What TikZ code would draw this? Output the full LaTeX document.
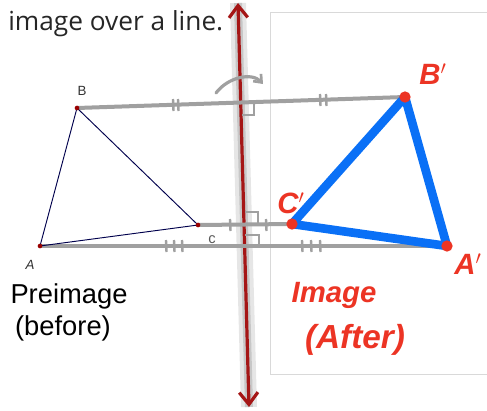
\documentclass[tikz,border=0pt]{standalone}
\usepackage{fontspec}
\setmainfont{Open Sans}
\newfontfamily\arialf{Liberation Sans}
\usetikzlibrary{arrows.meta,calc}
\definecolor{hred}{RGB}{236,52,36}
\definecolor{hblue}{RGB}{10,112,246}
\definecolor{axisred}{RGB}{165,22,22}
\definecolor{lgray}{RGB}{160,160,160}
\tikzset{
  gline/.style={draw=lgray, line width=3pt},
  tick/.style={draw=lgray, line width=1.8pt},
  rmark/.style={draw=lgray, line width=1.6pt},
  pretri/.style={draw=black!70!blue, line width=0.7pt},
  imtri/.style={draw=hblue, line width=6.5pt, line join=round},
  predot/.style={circle, fill=black!40!red, inner sep=0pt, minimum size=3.5pt},
  imdot/.style={circle, fill=hred, inner sep=0pt, minimum size=8.5pt},
  hand/.style={text=hred, font=\arialf\bfseries\itshape\fontsize{22}{24}\selectfont},
  small/.style={text=black!80, font=\arialf\fontsize{10}{12}\selectfont}
}
\begin{document}
\begin{tikzpicture}[x=0.75pt,y=-0.75pt]
\useasboundingbox (0,0) rectangle (487,411);
% panel
\draw[black!15, line width=0.6pt] (487,12) -- (270,12) -- (270,374) -- (487,374);
% title
\node[anchor=base west, inner sep=0pt, text=black!85, font=\fontsize{19.7}{22}\selectfont] (title) at (8,30) {image over a line.};
% axis
\coordinate (top) at (238,3);
\coordinate (bot) at (249,407);
\coordinate (mid) at ($(top)!0.5!(bot)$);
\draw[black!12, line width=12pt, opacity=0.8] (top) -- (bot);
\draw[black!22, line width=6pt] (top) -- (bot);
\draw[axisred, line width=2.4pt, -{Straight Barb[length=9pt,width=14pt,line width=2.4pt]}] (mid) -- (top);
\draw[axisred, line width=2.4pt, -{Straight Barb[length=9pt,width=14pt,line width=2.4pt]}] (mid) -- (bot);
% vertices
\coordinate (A) at (40,246);
\coordinate (B) at (77,108);
\coordinate (C) at (198,225);
\coordinate (A2) at (447,246);
\coordinate (B2) at (405,97);
\coordinate (C2) at (292,224);
% gray reflection lines
\draw[gline] (B) -- (B2);
\draw[gline] (C) -- (C2);
\draw[gline] (A) -- (A2);
% ticks
\foreach \x/\y in {173/105, 178/105, 320/100, 326/100} \draw[tick] (\x,\y-6) -- (\x+0.5,\y+6);
\foreach \x in {230, 266} \draw[tick] (\x,219) -- (\x+0.5,231);
\foreach \x in {166, 174, 182, 302, 311, 320} \draw[tick] (\x,240) -- (\x+0.5,252);
% right angle marks
\draw[rmark] (254,102) -- (254,115) -- (242,115);
\draw[rmark] (245,212) -- (258,212) -- (258,224);
\draw[rmark] (245,235) -- (259,235) -- (259,246);
% curved arrow
\draw[draw=lgray, line width=2.4pt, line cap=round, -{Straight Barb[length=5pt,width=8pt,line width=2pt]}] (216,93) .. controls (228,77) and (252,72) .. (263,84);
% preimage triangle
\draw[pretri] (A) -- (B) -- (C) -- cycle;
\node[predot] at (A) {};
\node[predot] at (B) {};
\node[predot] at (C) {};
\node[small] (lB) at (82,91) {B};
\node[small, font=\arialf\itshape\fontsize{10}{12}\selectfont] (lA) at (30,265) {A};
\node[small, text=black!65, font=\arialf\fontsize{11}{12}\selectfont] (lC) at (212,240) {c};
% image triangle
\draw[imtri] (A2) -- (B2) -- (C2) -- cycle;
\node[imdot] at (A2) {};
\node[imdot] at (B2) {};
\node[imdot] at (C2) {};
\node[hand] (lB2) at (433,74) {B$'$};
\node[hand] (lC2) at (291,203) {C$'$};
\node[hand] (lA2) at (468,264) {A$'$};
% captions
\node[anchor=base, inner sep=0pt, font=\arialf\fontsize{20.5}{24}\selectfont] (pre) at (69,303) {Preimage};
\node[anchor=base, inner sep=0pt, font=\arialf\fontsize{20.5}{24}\selectfont] (bef) at (63,335) {(before)};
\node[hand, font=\arialf\bfseries\itshape\fontsize{22}{24}\selectfont] (im) at (334,295) {Image};
\node[hand, font=\arialf\bfseries\itshape\fontsize{25}{28}\selectfont] (aft) at (355,340) {(After)};
\end{tikzpicture}
\end{document}
